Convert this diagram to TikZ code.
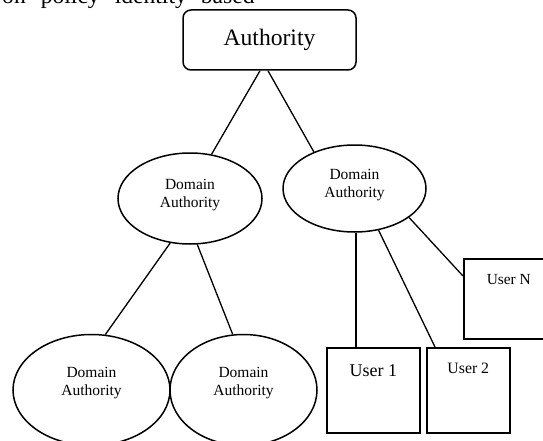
\documentclass[tikz,border=0pt]{standalone}
\usepackage{fontspec}
\setmainfont{Liberation Serif}
\usetikzlibrary{shapes.geometric}
\begin{document}
\begin{tikzpicture}[x=1pt,y=-1pt,
  conn/.style={line width=1.3pt},
  dom/.style={ellipse, draw, line width=1.5pt, inner sep=0pt},
  domtext/.style={align=center, font=\fontsize{15.5}{18}\selectfont, inner sep=0pt},
  userbox/.style={draw, line width=1.6pt, inner sep=0pt, anchor=north west}
]
\useasboundingbox (0,0) rectangle (543,441);
\clip (0,0) rectangle (543,441);
\node[anchor=base west, inner sep=0pt, font=\fontsize{23.6}{28}\selectfont] (toptext) at (2,4) {on\hspace{15pt}policy\hspace{15pt}identity\hspace{14pt}based};

\node[draw, rounded corners=8pt, line width=1.5pt, minimum width=173pt, minimum height=60pt, inner sep=0pt, font=\fontsize{23.6}{28}\selectfont] (auth) at (269.5,40) {Authority};

\node[dom, minimum width=144pt, minimum height=91pt] (d1) at (190,198.5) {};
\node[domtext] (d1t) at (190,195.5) {Domain\\Authority};
\node[dom, minimum width=143pt, minimum height=87pt] (d2) at (354.5,188.5) {};
\node[domtext] (d2t) at (354.5,185.5) {Domain\\Authority};
\node[dom, minimum width=157pt, minimum height=111pt] (b1) at (91.5,390) {};
\node[domtext] (b1t) at (91.5,383.5) {Domain\\Authority};
\node[dom, minimum width=147pt, minimum height=111pt] (b2) at (243.5,390) {};
\node[domtext] (b2t) at (243.5,383.5) {Domain\\Authority};

\node[userbox, minimum width=93pt, text height=29pt, text depth=56pt, font=\fontsize{18}{20}\selectfont] (u1) at (326,347) {User 1};
\node[userbox, minimum width=83pt, text height=26pt, text depth=59pt, font=\fontsize{15.8}{18}\selectfont] (u2) at (426,347) {User 2};
\node[userbox, minimum width=90pt, text height=26pt, text depth=54pt, font=\fontsize{15.4}{18}\selectfont] (uN) at (463,258) {User N};

\draw[conn] ([xshift=-9.5pt]auth.south) -- (d1.64);
\draw[conn] ([xshift=-1.5pt]auth.south) -- (d2.138);
\draw[conn] (d1.-114) -- (b1.76);
\draw[conn] (d1.-81) -- (b2.101);
\draw[conn] ([xshift=1.5pt]d2.south) -- ([xshift=1.5pt]d2.south |- u1.north);
\draw[conn] (d2.-60) -- ([xshift=9pt]u2.north west);
\draw[conn] (d2.-28) -- ([yshift=-18pt]uN.north west);
\end{tikzpicture}
\end{document}
